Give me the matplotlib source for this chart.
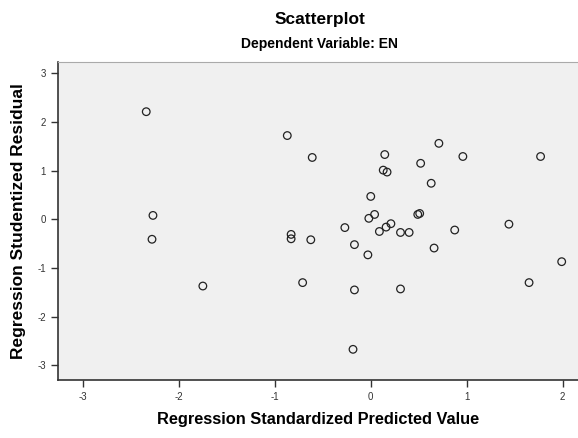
import matplotlib
matplotlib.use("Agg")
from matplotlib import pyplot as plt

plt.rcParams['font.family'] = ['Liberation Sans', 'DejaVu Sans']

# standardized predicted value vs studentized residual
pred = [-2.34, -2.27, -2.28, -1.75, -0.87, -0.61, 0.146, 0.13, 0.17, 0.52,
        0.71, 0.96, 1.77, 0.63, 0.0, -0.02, 0.04, 0.49, 0.51, -0.27,
        0.09, 0.16, 0.21, 0.31, 0.40, -0.83, -0.83, -0.625, -0.17, -0.03,
        0.66, 0.875, 1.44, 1.99, -0.71, -0.17, 0.31, 1.65, -0.185]
resid = [2.21, 0.08, -0.41, -1.37, 1.72, 1.27, 1.33, 1.01, 0.97, 1.15,
         1.56, 1.29, 1.29, 0.74, 0.47, 0.02, 0.10, 0.10, 0.12, -0.17,
         -0.25, -0.16, -0.09, -0.27, -0.27, -0.31, -0.40, -0.42, -0.52, -0.73,
         -0.59, -0.22, -0.10, -0.87, -1.30, -1.45, -1.43, -1.30, -2.67]

xticks = [-3, -2, -1, 0, 1, 2]
yticks = [-3, -2, -1, 0, 1, 2, 3]

fig = plt.figure(figsize=(5.78, 4.38), dpi=100)
ax = fig.add_axes([0.1003, 0.1324, 0.8997, 0.726])
ax.set_facecolor('#f0f0f0')

ax.scatter(pred, resid, s=30, facecolors='none', edgecolors='#222222', linewidths=0.9)

ax.set_xlim(-3.26, 2.16)
ax.set_ylim(-3.30, 3.23)
ax.set_xticks(xticks)
ax.set_yticks(yticks)
ax.set_xticklabels([str(t) for t in xticks])
ax.set_yticklabels([str(t) for t in yticks])
ax.tick_params(direction='out', length=5, width=1, labelsize=7, colors='#333333')

ax.spines['right'].set_visible(False)
ax.spines['top'].set_color('#aaaaaa')
ax.spines['left'].set_color('#333333')
ax.spines['bottom'].set_color('#333333')
ax.spines['left'].set_linewidth(1.2)
ax.spines['bottom'].set_linewidth(1.2)

ax.set_xlabel('Regression Standardized Predicted Value', fontsize=11.8, fontweight='bold', labelpad=7)
ax.set_ylabel('Regression Studentized Residual', fontsize=12.5, fontweight='bold', labelpad=8)

fig.text(0.553, 0.955, 'Scatterplot', ha='center', va='center', fontsize=12.5, fontweight='bold')
fig.text(0.553, 0.9, 'Dependent Variable: EN', ha='center', va='center', fontsize=10, fontweight='bold')

fig.savefig('out.png', dpi=100)
